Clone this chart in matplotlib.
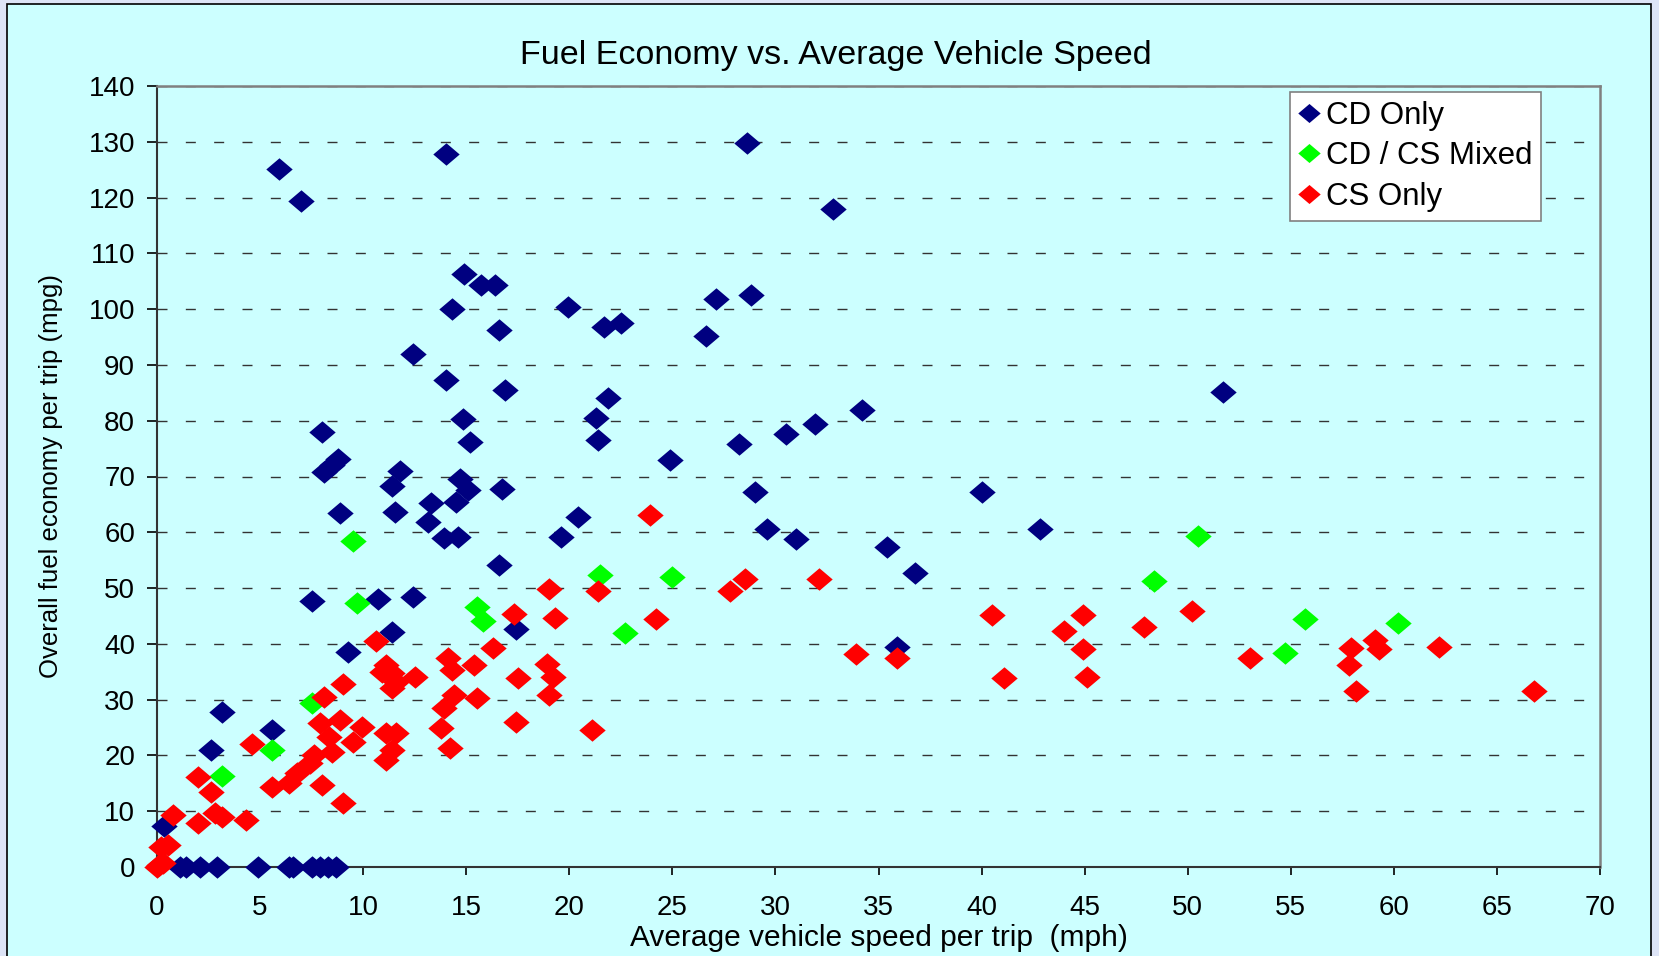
import matplotlib
matplotlib.use("Agg")
import matplotlib.pyplot as plt
from matplotlib.patches import Rectangle

plt.rcParams['font.family'] = ['Liberation Sans', 'DejaVu Sans']
plt.rcParams['lines.scale_dashes'] = False

title = "Fuel Economy vs. Average Vehicle Speed"
xlabel = "Average vehicle speed per trip  (mph)"
ylabel = "Overall fuel economy per trip (mpg)"
series_names = ["CD Only", "CD / CS Mixed", "CS Only"]
series_colors = ["#000080", "#00ff00", "#ff0000"]

cd_x = [0.35, 1.1, 1.4, 2.1, 2.9, 4.9, 6.4, 6.6, 7.5, 7.9, 8.3, 8.7,
        2.6, 3.15, 5.6, 5.9, 7.0,
        7.5, 8.0, 8.1, 8.5, 8.8, 8.9, 9.25,
        10.7, 11.4, 11.4, 11.8, 11.55, 12.4, 12.4,
        13.3, 13.15, 14.0, 14.0, 13.9, 14.3, 14.5, 14.6, 14.7, 14.85, 15.1, 15.2,
        14.9, 15.7, 16.4, 16.6, 16.75, 16.6, 16.9, 17.4,
        19.95, 19.6, 20.4, 21.3, 21.4, 21.7, 21.9, 22.5,
        24.9, 26.65, 27.1, 28.25, 28.6, 28.8, 29.0, 29.6, 30.5, 31.0, 31.9, 32.8,
        34.2, 35.4, 35.9, 36.75, 40.0, 42.85, 51.7]
cd_y = [7.3, 0, 0, 0, 0, 0, 0, 0, 0, 0, 0, 0,
        21.0, 27.8, 24.6, 125.1, 119.4,
        47.7, 78.0, 70.8, 72.0, 73.1, 63.4, 38.5,
        48.0, 42.1, 68.3, 71.0, 63.6, 48.4, 92.0,
        65.3, 61.8, 127.8, 87.3, 58.9, 100.0, 65.5, 59.2, 69.6, 80.3, 67.6, 76.2,
        106.3, 104.3, 104.3, 96.3, 67.8, 54.1, 85.5, 42.7,
        100.4, 59.2, 62.7, 80.5, 76.6, 96.8, 84.1, 97.5,
        73.0, 95.1, 101.8, 75.8, 129.8, 102.5, 67.2, 60.6, 77.6, 58.8, 79.4, 118.0,
        81.9, 57.4, 39.4, 52.7, 67.2, 60.6, 85.2]

mix_x = [3.15, 5.6, 7.5, 9.5, 9.7, 15.5, 15.8, 21.5, 22.7, 25.0, 48.35, 50.5, 54.7, 55.7, 60.2]
mix_y = [16.3, 21.0, 29.4, 58.4, 47.3, 46.6, 44.1, 52.4, 42.0, 52.0, 51.3, 59.3, 38.4, 44.5, 43.7]

cs_x = [0.0, 0.1, 0.3, 0.2, 0.55, 0.8, 2.0, 2.8, 3.15, 4.3, 2.0, 2.6, 4.6,
        5.6, 6.4, 6.8, 7.4, 7.6, 8.0, 9.0, 8.5, 8.35, 7.9, 8.9, 9.5, 9.95, 8.1, 9.0,
        10.6, 11.1, 10.9, 11.4, 11.6, 12.5, 11.4, 11.1, 11.6, 11.4, 11.1,
        13.8, 14.2, 13.9, 14.4, 15.5, 14.1, 14.3, 15.4, 16.3, 17.5, 17.4, 17.3,
        18.9, 19.2, 19.0, 19.0, 19.3, 21.1, 21.4, 23.9, 24.2, 27.8, 28.5, 32.1,
        33.9, 35.9, 40.5, 41.1, 44.0, 44.9, 44.9, 45.1, 47.9, 50.2, 53.0,
        57.9, 57.8, 58.15, 59.1, 59.3, 62.2, 66.8]
cs_y = [0.0, 0.3, 0.8, 3.6, 3.9, 9.3, 7.9, 9.7, 9.0, 8.4, 16.1, 13.4, 22.0,
        14.4, 15.0, 16.8, 18.6, 20.0, 14.7, 11.5, 20.6, 23.3, 25.8, 26.4, 22.4, 25.1, 30.5, 32.8,
        40.5, 36.2, 35.0, 34.8, 33.2, 34.1, 32.1, 24.0, 24.0, 21.0, 19.2,
        24.9, 21.3, 28.5, 30.8, 30.3, 37.5, 35.3, 36.2, 39.2, 33.9, 26.0, 45.3,
        36.4, 34.1, 30.8, 49.8, 44.6, 24.6, 49.5, 63.1, 44.5, 49.5, 51.6, 51.6,
        38.1, 37.4, 45.2, 33.9, 42.3, 45.2, 39.1, 34.1, 43.0, 45.9, 37.4,
        39.3, 36.2, 31.6, 40.7, 39.1, 39.4, 31.6]

x_ticks = list(range(0, 71, 5))
y_ticks = list(range(0, 141, 10))

W, H = 1659, 956
fig = plt.figure(figsize=(W / 100, H / 100), dpi=100, facecolor="#dde4f6")
fig.patches.append(Rectangle((7 / W, -0.05), (1651 - 7) / W, 1.05 - 4 / H,
                             transform=fig.transFigure, facecolor="#ccffff",
                             edgecolor="#000000", linewidth=1.2, zorder=-10))

ax = fig.add_axes([157 / W, 1 - 867 / H, (1600 - 157) / W, (867 - 86) / H])
ax.set_facecolor("#ccffff")

diamond = [(-1, 0), (0, 0.85), (1, 0), (0, -0.85), (-1, 0)]
for xs, ys, name, col in zip([cd_x, mix_x, cs_x], [cd_y, mix_y, cs_y], series_names, series_colors):
    ax.plot(xs, ys, linestyle="none", marker=diamond, markersize=19,
            markerfacecolor=col, markeredgecolor=col, markeredgewidth=0,
            label=name, zorder=3, clip_on=False)

ax.set_xlim(0, 70)
ax.set_ylim(0, 140)
ax.set_xticks(x_ticks)
ax.set_yticks(y_ticks)
ax.tick_params(axis="both", direction="out", width=1.2, labelsize=20, colors="#000000")
ax.tick_params(axis="x", length=6, pad=14)
ax.tick_params(axis="y", length=7.2, pad=8.5)
ax.grid(axis="y", color="#333333", linestyle=(0, (7.2, 13.2)), linewidth=1.0)
ax.set_axisbelow(True)
for s in ["left", "bottom"]:
    ax.spines[s].set_color("#333333")
    ax.spines[s].set_linewidth(1.5)
for s in ["top", "right"]:
    ax.spines[s].set_color("#808080")
    ax.spines[s].set_linewidth(1.8)

ax.set_title(title, fontsize=24.5, pad=16, x=(836 - 157) / 1443)
ax.set_xlabel(xlabel, fontsize=21.5)
ax.set_ylabel(ylabel, fontsize=18.5)
ax.xaxis.set_label_coords(0.5, (867 - 924) / 781)
ax.yaxis.set_label_coords((63 - 157) / 1443, 0.5)

leg = ax.legend(loc="upper right", bbox_to_anchor=(1541 / W, 1 - 92 / H),
                bbox_transform=fig.transFigure, fontsize=22.5, markerscale=0.85,
                frameon=True, fancybox=False, edgecolor="#808080",
                handlelength=0.6, handletextpad=0.25, borderpad=0.28,
                labelspacing=0.34, borderaxespad=0)
leg.get_frame().set_linewidth(1.2)
leg.get_frame().set_facecolor("#ffffff")
leg.get_frame().set_alpha(1)

fig.savefig("out.png", dpi=100, facecolor=fig.get_facecolor())
